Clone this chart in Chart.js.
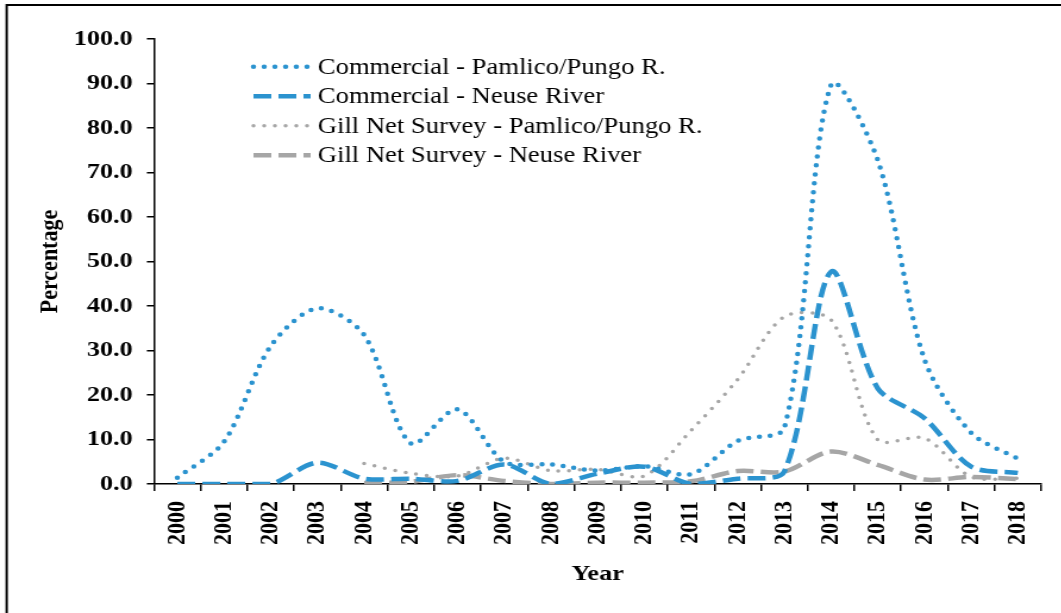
<!DOCTYPE html>
<html>
<head>
<meta charset="utf-8">
<script src="https://cdn.jsdelivr.net/npm/chart.js@4"></script>
<style>
  html, body { margin: 0; padding: 0; background: #fff; overflow: hidden; }
  /* the original figure is stretched sideways, so draw narrow and scale */
  #wrap { width: 892px; height: 613px; transform: scaleX(1.19); transform-origin: 0 0; }
</style>
</head>
<body>
<div id="wrap"><canvas id="catchChart"></canvas></div>
<script>
const years = ['2000','2001','2002','2003','2004','2005','2006','2007','2008','2009',
               '2010','2011','2012','2013','2014','2015','2016','2017','2018'];

// percentages
const commPamlico = [1.4, 9.5, 31.0, 39.5, 33.5, 9.1, 16.8, 5.0, 4.4, 3.0,
                     4.0, 2.2, 9.7, 12.6, 89.7, 72.8, 28.0, 11.5, 5.7];
const commNeuse   = [0, 0, 0, 4.8, 1.2, 1.2, 0.7, 4.4, 0, 2.3,
                     3.9, 0, 1.2, 2.8, 47.7, 21.5, 14.8, 3.9, 2.5];
const gillPamlico = [null, null, null, null, 4.6, 2.4, 1.8, 5.8, 3.0, 3.3,
                     1.8, 12.0, 23.5, 37.6, 36.9, 9.9, 10.3, 1.6, 1.3];
const gillNeuse   = [null, null, null, null, 0.2, 0.5, 2.0, 0.7, 0, 0.3,
                     0.3, 0.6, 2.9, 2.8, 7.3, 4.3, 1.0, 1.6, 1.1];

const seriesNames = ['Commercial - Pamlico/Pungo R.', 'Commercial - Neuse River',
                     'Gill Net Survey - Pamlico/Pungo R.', 'Gill Net Survey - Neuse River'];

const BLUE = '#2B93CF';
const GREY = '#A6A6A6';
const FONT = '"Liberation Serif", "Times New Roman", serif';

// outer frame, only top and left edges show in the original
const frame = {
  id: 'frame',
  beforeDraw(chart) {
    const ctx = chart.ctx;
    ctx.save();
    ctx.strokeStyle = '#000';
    ctx.lineWidth = 2;
    ctx.beginPath();
    ctx.moveTo(5.6, chart.height + 5);
    ctx.lineTo(5.6, 5);
    ctx.lineTo(chart.width + 5, 5);
    ctx.stroke();
    ctx.restore();
  }
};

// legend sits inside the plot, lines drawn with each dataset's own style
const lineLegend = {
  id: 'lineLegend',
  afterDatasetsDraw(chart) {
    const ctx = chart.ctx;
    chart.data.datasets.forEach((ds, i) => {
      const y = 66.7 + i * 29.5;
      ctx.save();
      ctx.strokeStyle = ds.borderColor;
      ctx.lineWidth = ds.borderWidth;
      ctx.lineCap = ds.borderCapStyle;
      ctx.setLineDash(ds.borderDash);
      ctx.beginPath();
      ctx.moveTo(213, y);
      ctx.lineTo(261, y);
      ctx.stroke();
      ctx.restore();
      ctx.save();
      ctx.fillStyle = '#000';
      ctx.font = '22.4px ' + FONT;
      ctx.textBaseline = 'middle';
      ctx.fillText(ds.label, 267, y + 1);
      ctx.restore();
    });
  }
};

new Chart('catchChart', {
  type: 'line',
  data: {
    labels: years,
    datasets: [
      { label: seriesNames[0], data: commPamlico, borderColor: BLUE, borderWidth: 4.5,
        borderDash: [0, 9], borderCapStyle: 'round' },
      { label: seriesNames[1], data: commNeuse, borderColor: BLUE, borderWidth: 4.5,
        borderDash: [15, 6], borderCapStyle: 'butt' },
      { label: seriesNames[2], data: gillPamlico, borderColor: GREY, borderWidth: 3.5,
        borderDash: [0, 9], borderCapStyle: 'round' },
      { label: seriesNames[3], data: gillNeuse, borderColor: GREY, borderWidth: 4.5,
        borderDash: [15, 6], borderCapStyle: 'butt' }
    ]
  },
  options: {
    responsive: true,
    maintainAspectRatio: false,
    animation: false,
    layout: { padding: { top: 39, right: 11.3, left: 0, bottom: 0 } },
    elements: {
      point: { radius: 0 },
      line: { tension: 0.3, fill: false }
    },
    plugins: {
      legend: { display: false },
      tooltip: { enabled: false }
    },
    scales: {
      x: {
        offset: true,
        grid: { offset: true, drawOnChartArea: false, drawTicks: true, tickLength: 7,
                color: '#000', lineWidth: 1.5 },
        border: { display: true, color: '#000', width: 1.5 },
        ticks: { color: '#000', font: { family: FONT, size: 22, weight: 'bold' },
                 minRotation: 90, maxRotation: 90, padding: 10, autoSkip: false },
        title: { display: true, text: 'Year', color: '#000',
                 font: { family: FONT, size: 22, weight: 'bold' },
                 padding: { top: 0, bottom: 25 } },
        afterFit(scale) { scale.height = 129; }
      },
      y: {
        min: 0,
        max: 100,
        grid: { drawOnChartArea: false, drawTicks: true, tickLength: 6,
                color: '#000', lineWidth: 1.5 },
        border: { display: true, color: '#000', width: 1.5 },
        ticks: { stepSize: 10, color: '#000', padding: 12,
                 font: { family: FONT, size: 22, weight: 'bold' },
                 callback: v => v.toFixed(1) },
        title: { display: true, text: 'Percentage', color: '#000',
                 font: { family: FONT, size: 22, weight: 'bold' },
                 padding: { top: 29, bottom: 0 } },
        afterFit(scale) { scale.width = 129.4; }
      }
    }
  },
  plugins: [frame, lineLegend]
});
</script>
</body>
</html>
